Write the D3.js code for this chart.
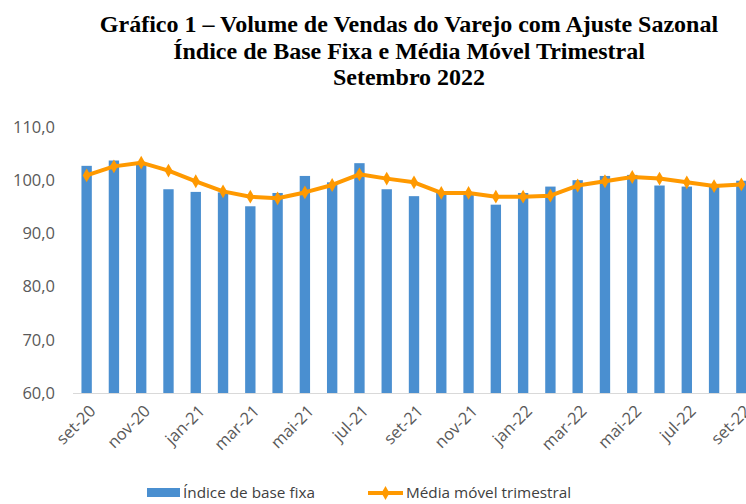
<!DOCTYPE html>
<meta charset="utf-8">
<style>
  body { margin: 0; background: #fff; }
  .title { font-family: "Liberation Serif", "Times New Roman", serif; font-weight: bold; font-size: 24px; fill: #000; }
  .tick text { font-family: "Open Sans", "Liberation Sans", sans-serif; font-size: 16.5px; fill: #595959; }
  .legend text { font-family: "Open Sans", "Liberation Sans", sans-serif; font-size: 15.3px; fill: #404040; }
  .line { fill: none; stroke: #ff9900; stroke-width: 4px; stroke-linejoin: round; }
</style>
<body>
<div id="chart"></div>
<script src="https://d3js.org/d3.v7.min.js"></script>
<script>
// months set-20 .. set-22
var months = ["set-20","out-20","nov-20","dez-20","jan-21","fev-21","mar-21","abr-21","mai-21","jun-21","jul-21","ago-21","set-21","out-21","nov-21","dez-21","jan-22","fev-22","mar-22","abr-22","mai-22","jun-22","jul-22","ago-22","set-22"];
var indice = [102.7,103.7,103.3,98.3,97.8,97.7,95.1,97.6,100.8,99.6,103.2,98.3,97.0,97.7,97.7,95.4,97.6,98.8,100.0,100.8,101.0,99.0,98.8,98.8,99.9];
var media = [100.9,102.6,103.3,101.8,99.8,97.9,96.9,96.6,97.7,99.1,101.1,100.3,99.6,97.6,97.6,96.9,96.9,97.1,99.0,99.8,100.6,100.3,99.6,98.9,99.2];
var yTicks = [60,70,80,90,100,110];
var titleLines = ["Gráfico 1 – Volume de Vendas do Varejo com Ajuste Sazonal", "Índice de Base Fixa e Média Móvel Trimestral", "Setembro 2022"];

var W = 746, H = 504;
var plotLeft = 73, plotRight = 755, plotTop = 127, plotBottom = 393;

var svg = d3.select("#chart").append("svg").attr("width", W).attr("height", H);

// title
svg.append("g").selectAll("text").data(titleLines).enter().append("text")
  .attr("class", "title")
  .attr("x", 409)
  .attr("y", function (d, i) { return 32 + i * 26.5; })
  .attr("text-anchor", "middle")
  .text(function (d) { return d; });

var x = d3.scaleBand().domain(months).range([plotLeft, plotRight]).paddingInner(0.62).paddingOuter(0.31);
var y = d3.scaleLinear().domain([60, 110]).range([plotBottom, plotTop]);

// bars
svg.append("g").selectAll("rect").data(months).enter().append("rect")
  .attr("x", function (d) { return x(d); })
  .attr("width", x.bandwidth())
  .attr("y", function (d, i) { return y(indice[i]); })
  .attr("height", function (d, i) { return plotBottom - y(indice[i]); })
  .attr("fill", "#4a8fd0");

// x axis line
svg.append("line")
  .attr("x1", plotLeft).attr("x2", W).attr("y1", plotBottom + 0.5).attr("y2", plotBottom + 0.5)
  .attr("stroke", "#d9d9d9").attr("stroke-width", 1);

// y axis
var yAxis = svg.append("g").attr("transform", "translate(" + 55 + ",0)")
  .call(d3.axisLeft(y).tickValues(yTicks).tickSize(0).tickPadding(0)
    .tickFormat(function (d) { return d3.format(".1f")(d).replace(".", ","); }));
yAxis.select(".domain").remove();

// x axis labels (every other month)
var xAxis = svg.append("g").attr("transform", "translate(0," + plotBottom + ")")
  .call(d3.axisBottom(x).tickSize(0).tickValues(months.filter(function (d, i) { return i % 2 === 0; })));
xAxis.select(".domain").remove();
xAxis.selectAll("text")
  .attr("text-anchor", "end")
  .attr("dy", "0.35em")
  .attr("transform", "translate(6,15) rotate(-45)")
  .attr("y", 0).attr("x", 0);

// moving average line
var cx = function (d, i) { return x(months[i]) + x.bandwidth() / 2; };
var line = d3.line().x(cx).y(function (d) { return y(d); });
svg.append("path").datum(media).attr("class", "line").attr("d", line);

var diamond = d3.symbol().type(d3.symbolDiamond).size(55);
svg.append("g").selectAll("path").data(media).enter().append("path")
  .attr("d", diamond)
  .attr("transform", function (d, i) { return "translate(" + cx(d, i) + "," + y(d) + ")"; })
  .attr("fill", "#ff9900");

// legend
var lg = svg.append("g").attr("class", "legend");
lg.append("rect").attr("x", 147).attr("y", 488).attr("width", 33).attr("height", 9).attr("fill", "#4a8fd0");
lg.append("text").attr("x", 183).attr("y", 498).text("Índice de base fixa");
lg.append("line").attr("x1", 368).attr("x2", 403).attr("y1", 493).attr("y2", 493)
  .attr("stroke", "#ff9900").attr("stroke-width", 4);
lg.append("path").attr("d", diamond).attr("transform", "translate(385.5,493)").attr("fill", "#ff9900");
lg.append("text").attr("x", 406).attr("y", 498).text("Média móvel trimestral");
</script>
</body>
